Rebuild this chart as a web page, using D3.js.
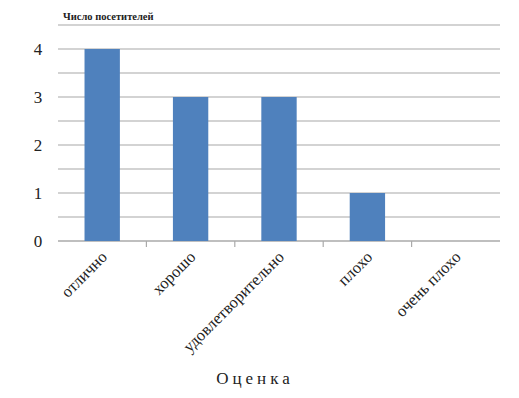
<!DOCTYPE html>
<html><head><meta charset="utf-8">
<script src="https://cdn.jsdelivr.net/npm/d3@7"></script>
<style>body{margin:0;background:#fff}svg{display:block}text{font-family:"Liberation Serif","DejaVu Serif",serif}</style>
</head><body>
<svg id="c" width="519" height="398"></svg>
<script>
const categories = ["отлично","хорошо","удовлетворительно","плохо","очень плохо"];
const values = [4,3,3,1,0];
const yTicks = [0,1,2,3,4];
const gridTicks = [0,0.5,1,1.5,2,2.5,3,3.5,4,4.5];
const yTitle = "Число посетителей";
const xTitle = "Оценка";

const svg = d3.select("#c");
const m = {l:58, r:500, t:25, b:241};
const x = d3.scaleBand().domain(categories).range([m.l, m.r]).paddingInner(0.6).paddingOuter(0.3);
const xb = d3.scaleBand().domain(categories).range([m.l, m.r]);
const y = d3.scaleLinear().domain([0,4.5]).range([m.b, m.t]);

svg.append("g").selectAll("line").data(gridTicks).join("line")
  .attr("x1", m.l).attr("x2", m.r)
  .attr("y1", d=>y(d)).attr("y2", d=>y(d))
  .attr("stroke", d=>d===0?"#aaaaaa":"#c4c4c4").attr("stroke-width", 1.5);

svg.append("g").selectAll("line").data(categories.slice(1)).join("line")
  .attr("x1", d=>xb(d)).attr("x2", d=>xb(d))
  .attr("y1", m.b).attr("y2", m.b+6)
  .attr("stroke", "#aaaaaa").attr("stroke-width", 1.2);

svg.append("g").selectAll("rect").data(values).join("rect")
  .attr("x", (d,i)=>x(categories[i])).attr("width", x.bandwidth())
  .attr("y", d=>y(d)).attr("height", d=>y(0)-y(d))
  .attr("fill", "#4F81BD");

svg.append("g").selectAll("text").data(yTicks).join("text")
  .attr("x", 38).attr("y", d=>y(d)).attr("dy", "0.35em")
  .attr("text-anchor", "middle").attr("font-size", 17)
  .attr("fill", "#222").text(d=>d);

svg.append("g").selectAll("text").data(categories).join("text")
  .attr("transform", d=>`translate(${xb(d)+xb.bandwidth()/2+6},${m.b+17}) rotate(-45)`)
  .attr("text-anchor", "end").attr("font-size", 16.5)
  .attr("fill", "#222").text(d=>d);

svg.append("text").attr("x", 63).attr("y", 20)
  .attr("font-size", 10.5).attr("font-weight", "bold")
  .attr("fill", "#222").text(yTitle);

svg.append("text").attr("x", 255).attr("y", 384)
  .attr("text-anchor", "middle").attr("font-size", 17)
  .attr("letter-spacing", "4px").attr("fill", "#222").text(xTitle);
</script>
</body></html>
